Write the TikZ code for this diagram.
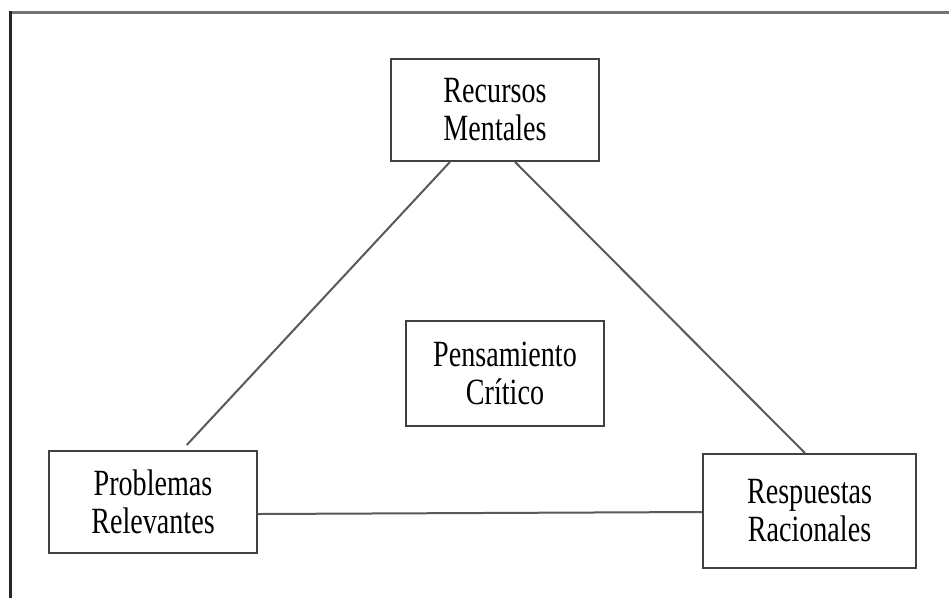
\documentclass[tikz,border=0pt]{standalone}
\usepackage{fontspec}
\newfontfamily\boxfont[FakeStretch=0.76]{Liberation Serif}
\begin{document}
\begin{tikzpicture}[x=1pt,y=-1pt,
  box/.style={draw=black!75,line width=1.8pt,fill=white,rectangle,inner sep=0pt,
    align=center,font=\boxfont\fontsize{37}{38}\selectfont,text=black},
  link/.style={draw=black!65,line width=2pt}]
\useasboundingbox (0,0) rectangle (949,598);
\fill[white] (0,0) rectangle (949,598);
% frame (top and left only)
\draw[black!55,line width=3pt] (10,12) -- (949,12);
\draw[black!85,line width=2.2pt] (10.5,11) -- (10.5,598);
% nodes
\node[box,minimum width=208pt,minimum height=102pt] (R) at (495,110) {Recursos\\Mentales};
\node[box,minimum width=198pt,minimum height=105pt] (C) at (505,373.5) {Pensamiento\\Crítico};
\node[box,minimum width=208pt,minimum height=102pt] (P) at (153,502) {Problemas\\Relevantes};
\node[box,minimum width=213pt,minimum height=114pt] (S) at (809.5,511) {Respuestas\\Racionales};
% connectors
\draw[link,shorten >=7pt] ([xshift=-45pt]R.south) -- ([xshift=29pt]P.north);
\draw[link] ([xshift=20pt]R.south) -- ([xshift=-4.5pt]S.north);
\draw[link] ([yshift=-12pt]P.east) -- ([yshift=-1pt]S.west);
\end{tikzpicture}
\end{document}
